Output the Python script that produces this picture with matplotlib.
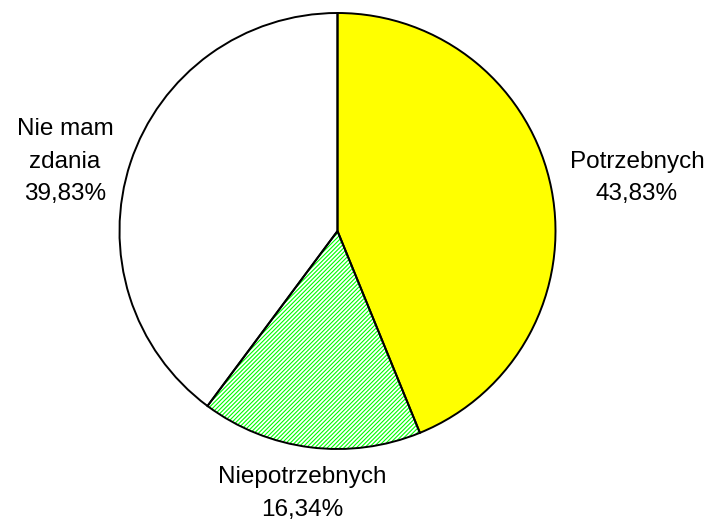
import numpy as np
import matplotlib.pyplot as plt

labels = ['Potrzebnych', 'Niepotrzebnych', 'Nie mam\nzdania']
values = [43.83, 16.34, 39.83]
value_text = ['43,83%', '16,34%', '39,83%']
colors = ['#ffff00', 'white', 'white']
label_dist = [1.395, 1.215, 1.29]
label_turn = [-1.0, -0.4, 4.0]

plt.rcParams['font.family'] = ['Liberation Sans', 'DejaVu Sans']
plt.rcParams['hatch.linewidth'] = 0.8

fig = plt.figure(figsize=(7.15, 5.23), dpi=100)
ax = fig.add_axes([0, 0, 1, 1])

cx, cy, r = 337.5, 292, 218

# fills
wedges, _ = ax.pie(values, colors=colors, startangle=90, counterclock=False,
                   center=(cx, cy), radius=r, frame=True,
                   wedgeprops=dict(linewidth=0))
# green hatch on the middle slice (hatch uses edge colour)
wedges[1].set_edgecolor('#00ff00')
wedges[1].set_hatch('////////')

# black outlines on top
ax.pie(values, colors=['none'] * 3, startangle=90, counterclock=False,
       center=(cx, cy), radius=r, frame=True,
       wedgeprops=dict(edgecolor='black', linewidth=1.4, fill=False))

ax.set_xlim(0, 715)
ax.set_ylim(0, 523)
ax.set_aspect('equal')
ax.axis('off')

for wd, lab, vt, d, t in zip(wedges, labels, value_text, label_dist, label_turn):
    ang = np.deg2rad((wd.theta1 + wd.theta2) / 2 + t)
    x = cx + d * r * np.cos(ang)
    y = cy + d * r * np.sin(ang)
    ax.text(x, y, lab + '\n' + vt, ha='center', va='center', fontsize=17.5,
            linespacing=1.6, multialignment='center')

fig.savefig('out.png', dpi=100)
